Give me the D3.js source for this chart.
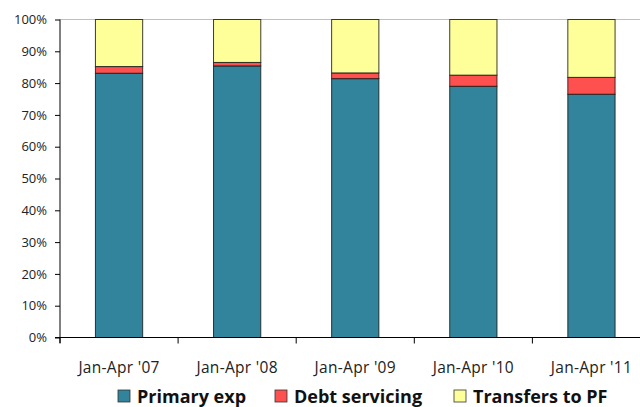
<!DOCTYPE html>
<html lang="en">
<head>
    <meta charset="UTF-8">
    <title>Expenditure structure</title>
    <style>
        body { margin: 0; background: #fff; }
        svg { display: block; font-family: "Open Sans", "Noto Sans", sans-serif; }
    </style>
</head>
<body>
    <div id="chart"></div>

    <script src="https://d3js.org/d3.v7.min.js"></script>
    <script>
        const categories = ["Jan-Apr '07", "Jan-Apr '08", "Jan-Apr '09", "Jan-Apr '10", "Jan-Apr '11"];
        const primaryExp = [83.1, 85.4, 81.4, 79.0, 76.5];
        const debtServicing = [2.1, 1.1, 1.8, 3.5, 5.3];
        const transfersToPF = [14.8, 13.5, 16.8, 17.5, 18.2];
        const seriesNames = ["Primary exp", "Debt servicing", "Transfers to PF"];
        const yTicks = [0, 10, 20, 30, 40, 50, 60, 70, 80, 90, 100];

        const width = 640;
        const height = 407;
        const plotLeft = 60, plotTop = 19.5, plotBottom = 337.5, plotRight = 650.5;
        const colors = ["#31849B", "#FF5050", "#FFFF99"];

        const svg = d3.select("#chart").append("svg")
            .attr("width", width)
            .attr("height", height);

        const x = d3.scaleBand()
            .domain(categories)
            .range([plotLeft, plotRight])
            .paddingInner(0.6)
            .paddingOuter(0.3);

        const y = d3.scaleLinear()
            .domain([0, 100])
            .range([plotBottom, plotTop]);

        // top border line
        svg.append("line")
            .attr("x1", plotLeft).attr("x2", width)
            .attr("y1", y(100)).attr("y2", y(100))
            .attr("stroke", "#BFBFBF")
            .attr("stroke-width", 1.2);

        // stacked data
        const rows = categories.map((c, i) => ({
            cat: c,
            "Primary exp": primaryExp[i],
            "Debt servicing": debtServicing[i],
            "Transfers to PF": transfersToPF[i]
        }));
        const stack = d3.stack().keys(seriesNames)(rows);

        const groups = svg.selectAll(".series")
            .data(stack)
            .enter()
            .append("g")
            .attr("class", "series")
            .attr("fill", (d, i) => colors[i]);

        groups.selectAll("rect")
            .data(d => d)
            .enter()
            .append("rect")
            .attr("x", d => x(d.data.cat))
            .attr("y", d => y(d[1]))
            .attr("width", x.bandwidth())
            .attr("height", d => y(d[0]) - y(d[1]))
            .attr("stroke", "#1a1a1a")
            .attr("stroke-opacity", 0.85)
            .attr("stroke-width", 1);

        // y axis
        const yAxis = svg.append("g")
            .attr("transform", `translate(${plotLeft},0)`)
            .call(d3.axisLeft(y).tickValues(yTicks).tickSize(5).tickPadding(8).tickFormat(d => d + "%"));
        yAxis.select(".domain").attr("d", `M0,${y(100)}V${plotBottom + 5.5}`).attr("stroke", "#000");
        yAxis.selectAll("text")
            .style("font-size", "13px")
            .style("font-family", "'Open Sans', sans-serif")
            .attr("fill", "#222");

        // x axis
        const xAxis = svg.append("g")
            .attr("transform", `translate(0,${plotBottom})`)
            .call(d3.axisBottom(x).tickSize(0).tickPadding(24));
        xAxis.select(".domain").attr("d", `M${plotLeft - 5},0H${width}`).attr("stroke", "#000");
        xAxis.selectAll("text")
            .style("font-size", "15.5px")
            .style("letter-spacing", "0.3px")
            .style("font-family", "'Open Sans', sans-serif")
            .attr("fill", "#222");

        // category boundary ticks
        svg.append("g")
            .selectAll("line")
            .data(categories)
            .enter()
            .append("line")
            .attr("x1", d => x(d) + x.bandwidth() / 2 - x.step() / 2)
            .attr("x2", d => x(d) + x.bandwidth() / 2 - x.step() / 2)
            .attr("y1", plotBottom)
            .attr("y2", plotBottom + 6)
            .attr("stroke", "#000");

        // legend
        const legendX = [118, 275, 454];
        const legend = svg.append("g");
        seriesNames.forEach((name, i) => {
            const item = legend.append("g")
                .attr("transform", `translate(${legendX[i]},390)`);
            item.append("rect")
                .attr("width", 12)
                .attr("height", 12)
                .attr("fill", colors[i])
                .attr("stroke", "#333")
                .attr("stroke-width", 0.8);
            item.append("text")
                .attr("x", 19)
                .attr("y", 12.5)
                .style("font-size", "18px")
                .style("font-weight", "bold")
                .style("font-family", "'Open Sans', sans-serif")
                .attr("fill", "#111")
                .text(name);
        });
    </script>
</body>
</html>
